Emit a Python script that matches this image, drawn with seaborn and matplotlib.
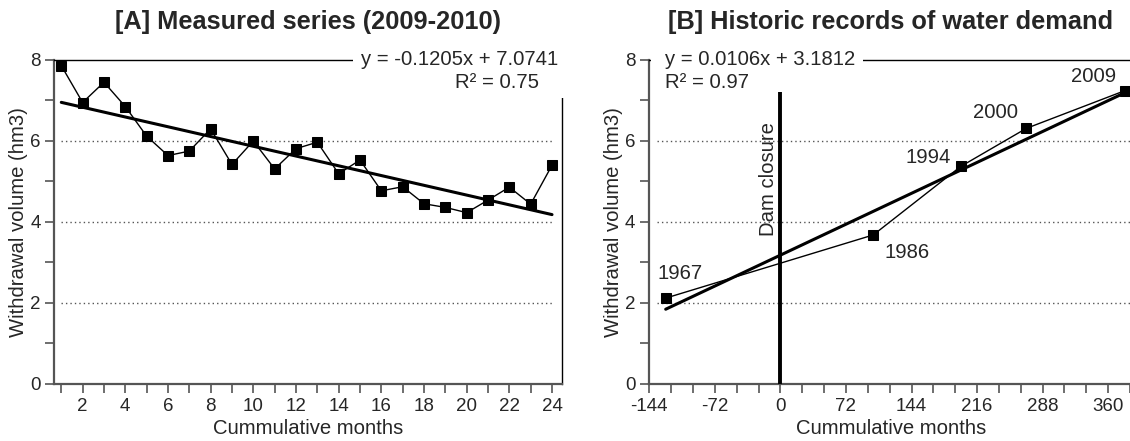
import numpy as np
import pandas as pd
import matplotlib
matplotlib.use("Agg")
import matplotlib.pyplot as plt
from matplotlib.patches import Rectangle
from matplotlib.ticker import MultipleLocator
import seaborn as sns

# ---- Panel A: monthly withdrawals, 2009-2010 ----
months = list(range(1, 25))
withdrawal_monthly = [7.86, 6.95, 7.45, 6.85, 6.12, 5.64, 5.75, 6.30, 5.42, 6.00, 5.31, 5.81,
                      5.97, 5.19, 5.53, 4.77, 4.87, 4.45, 4.36, 4.23, 4.54, 4.86, 4.44, 5.40]
slope_a, intercept_a, r2_a = -0.1205, 7.0741, 0.75

# ---- Panel B: historic records, months counted from dam closure ----
record_months = [-126, 102, 198, 270, 378]
record_volume = [2.12, 3.68, 5.37, 6.31, 7.24]
record_years = ["1967", "1986", "1994", "2000", "2009"]
slope_b, intercept_b, r2_b = 0.0106, 3.1812, 0.97
dam_closure_month = 0
dam_line_top = 7.2

sns.set_theme(style="white")
plt.rcParams["font.family"] = ["Liberation Sans", "DejaVu Sans"]
plt.rcParams["axes.unicode_minus"] = False

GREY = "#555555"
TICK_FS = 13.5
LABEL_FS = 14.6
TITLE_FS = 18.3

fig = plt.figure(figsize=(11.3, 4.41), dpi=100)
axA = fig.add_axes([0.0482, 0.1293, 0.4488, 0.7347])
axB = fig.add_axes([0.5746, 0.1293, 0.4272, 0.7347])


def style_axes(ax, xmajor, xminor):
    ax.set_ylim(0, 8)
    ax.yaxis.set_major_locator(MultipleLocator(2))
    ax.yaxis.set_minor_locator(MultipleLocator(1))
    ax.xaxis.set_major_locator(MultipleLocator(xmajor))
    ax.xaxis.set_minor_locator(MultipleLocator(xminor))
    ax.tick_params(which="both", direction="out", length=6.5, width=1.2, color=GREY,
                   labelsize=TICK_FS, pad=3.5, bottom=True, left=True)
    for side in ("left", "bottom"):
        ax.spines[side].set_color(GREY)
        ax.spines[side].set_linewidth(1.6)
    for side in ("top", "right"):
        ax.spines[side].set_color("black")
        ax.spines[side].set_linewidth(1.0)
    ax.set_ylabel("Withdrawal volume (hm3)", fontsize=LABEL_FS, labelpad=1.5)
    ax.set_xlabel("Cummulative months", fontsize=LABEL_FS, labelpad=3)
    ax.grid(False)


# ---- Panel A ----
axA.set_xlim(0.68, 24.45)
style_axes(axA, 2, 1)
axA.hlines([2, 4, 6], months[0], months[-1], colors=GREY, linestyles=(0, (1, 2.2)), lw=1, zorder=1)
sns.lineplot(x=months, y=withdrawal_monthly, ax=axA, color="black", lw=1,
             marker="s", markersize=6.8, markeredgecolor="black", zorder=4)
fit_xa = np.array([months[0], months[-1]])
sns.lineplot(x=fit_xa, y=slope_a * fit_xa + intercept_a, ax=axA, color="black", lw=2.2, zorder=5)
axA.add_patch(Rectangle((0.589, 0.883), 0.43, 0.13, transform=axA.transAxes,
                        facecolor="white", edgecolor="none", clip_on=False, zorder=3))
axA.text(0.994, 1.0, f"y = {slope_a:.4f}x + {intercept_a:.4f}", transform=axA.transAxes,
         ha="right", va="center", fontsize=LABEL_FS, zorder=6)
axA.text(0.955, 0.932, f"R² = {r2_a:.2f}", transform=axA.transAxes,
         ha="right", va="center", fontsize=LABEL_FS, zorder=6)
axA.set_title("[A] Measured series (2009-2010)", fontsize=TITLE_FS, fontweight="bold", pad=22)

# ---- Panel B ----
axB.set_xlim(-144, 386.2)
style_axes(axB, 72, 24)
axB.hlines([2, 4, 6], -135, 386.2, colors=GREY, linestyles=(0, (1, 2.2)), lw=1, zorder=1)
axB.vlines(dam_closure_month, 0, dam_line_top, colors="black", lw=2.8, zorder=4)
axB.annotate("Dam closure", (dam_closure_month, 5.06), xytext=(-8.6, 0),
             textcoords="offset points", rotation=90, ha="center", va="center", fontsize=LABEL_FS)
sns.lineplot(x=record_months, y=record_volume, ax=axB, color="black", lw=1,
             marker="s", markersize=6.8, markeredgecolor="black", zorder=4)
fit_xb = np.array([record_months[0], record_months[-1]])
sns.lineplot(x=fit_xb, y=slope_b * fit_xb + intercept_b, ax=axB, color="black", lw=2.2, zorder=5)

label_offsets = [(10.2, 17.5), (24.4, -12.7), (-23.2, 6.8), (-22.1, 11.5), (-22.5, 10.6)]
for mx, vy, yr, off in zip(record_months, record_volume, record_years, label_offsets):
    axB.annotate(yr, (mx, vy), xytext=off, textcoords="offset points",
                 ha="center", va="center", fontsize=LABEL_FS)

axB.add_patch(Rectangle((0.004, 0.9), 0.4385, 0.12, transform=axB.transAxes,
                        facecolor="white", edgecolor="none", clip_on=False, zorder=3))
axB.text(0.0317, 1.0, f"y = {slope_b:.4f}x + {intercept_b:.4f}", transform=axB.transAxes,
         ha="left", va="center", fontsize=LABEL_FS, zorder=6)
axB.text(0.0317, 0.931, f"R² = {r2_b:.2f}", transform=axB.transAxes,
         ha="left", va="center", fontsize=LABEL_FS, zorder=6)
axB.set_title("[B] Historic records of water demand", fontsize=TITLE_FS, fontweight="bold", pad=22)

fig.savefig("out.png", dpi=100)
